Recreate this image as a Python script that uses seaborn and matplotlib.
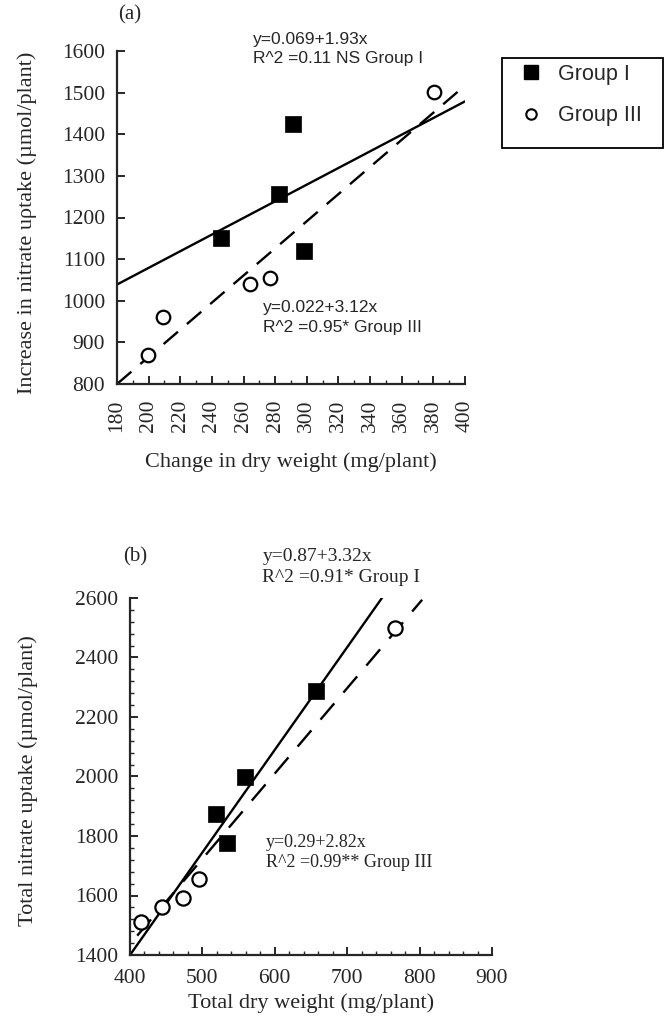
import numpy as np
import pandas as pd
import matplotlib
matplotlib.use("Agg")
import matplotlib.pyplot as plt
import seaborn as sns
from matplotlib.ticker import MultipleLocator
from matplotlib.lines import Line2D
from matplotlib.patches import Rectangle

# ---------------- data ----------------
# panel (a)
a_g1_x = [245.6, 282.4, 291.4, 298.4]
a_g1_y = [1151, 1257, 1424, 1119]
a_g3_x = [199.8, 208.8, 264.0, 276.5, 380.5]
a_g3_y = [870, 960, 1041, 1055, 1502]
a_fit1_x = [180, 400]
a_fit1_y = [1039, 1479]
a_fit3_x = [180, 400]
a_fit3_y = [800, 1517]

# panel (b)
b_g1_x = [518.8, 533.7, 558.4, 657.0]
b_g1_y = [1874, 1777, 1997, 2287]
b_g3_x = [414.9, 444.6, 473.3, 495.5, 766.0]
b_g3_y = [1512, 1562, 1592, 1657, 2499]
b_fit1_x = [400, 750]
b_fit1_y = [1400, 2607]
b_fit3_x = [410, 803.5]
b_fit3_y = [1465, 2594]

a_xticks = list(range(180, 401, 20))
a_yticks = list(range(800, 1601, 100))
b_xticks = list(range(400, 901, 100))
b_yticks = list(range(1400, 2601, 200))

legend_labels = ["Group I", "Group III"]

# ---------------- style ----------------
sns.set_theme(style="ticks")
plt.rcParams["font.family"] = ["Liberation Serif", "DejaVu Serif"]
plt.rcParams["xtick.direction"] = "in"
plt.rcParams["ytick.direction"] = "in"
plt.rcParams["axes.linewidth"] = 1.6
plt.rcParams["xtick.major.width"] = 1.4
plt.rcParams["ytick.major.width"] = 1.4
plt.rcParams["xtick.minor.width"] = 1.0
plt.rcParams["ytick.minor.width"] = 1.0

SANS = ["Liberation Sans", "DejaVu Sans"]
SERIF = ["Liberation Serif", "DejaVu Serif"]
W, H = 665, 1018

fig = plt.figure(figsize=(6.65, 10.18), dpi=100)
# axes placed from pixel extents of the reference
ax1 = fig.add_axes([117 / W, 1 - 384 / H, 348 / W, 333 / H])
ax2 = fig.add_axes([130 / W, 1 - 955 / H, 362 / W, 357 / H])


def draw(ax, g1x, g1y, g3x, g3y, f1x, f1y, f3x, f3y, dash, s_sq, s_ci):
    sns.lineplot(x=f1x, y=f1y, ax=ax, color="black", linewidth=1.7, sort=False)
    sns.lineplot(x=f3x, y=f3y, ax=ax, color="black", linewidth=1.7, sort=False,
                 linestyle=(0, dash))
    sns.scatterplot(x=g1x, y=g1y, ax=ax, marker="s", s=s_sq, color="black",
                    edgecolor="black", linewidth=0.5, zorder=5)
    sns.scatterplot(x=g3x, y=g3y, ax=ax, marker="o", s=s_ci, facecolor="white",
                    edgecolor="black", linewidth=1.6, zorder=5)
    sns.despine(ax=ax)
    ax.grid(False)


# ---------------- panel (a) ----------------
draw(ax1, a_g1_x, a_g1_y, a_g3_x, a_g3_y, a_fit1_x, a_fit1_y, a_fit3_x, a_fit3_y,
     (8, 5), 120, 95)
ax1.set_xlim(180, 400)
ax1.set_ylim(800, 1600)
ax1.set_xticks(a_xticks)
ax1.set_yticks(a_yticks)
ax1.xaxis.set_minor_locator(MultipleLocator(10))
ax1.tick_params(axis="x", which="major", length=6, labelsize=15.5, rotation=90, pad=11)
ax1.tick_params(axis="x", which="minor", length=3)
ax1.tick_params(axis="y", which="major", length=6, labelsize=15.5, pad=8.5)
ax1.set_xlabel("Change in dry weight (mg/plant)", fontsize=16, family=SERIF, labelpad=15)
ax1.set_ylabel("Increase in nitrate u\u03c1take (\u00b5mol/plant)", fontsize=16,
               family=SERIF)
ax1.yaxis.set_label_coords(-0.23, 0.485)
ax1.text(188, 1687, "(a)", fontsize=15, family=SERIF, ha="center", va="center",
         clip_on=False)
ax1.text(266, 1628, "y=0.069+1.93x", fontsize=12.5, family=SANS, va="center", clip_on=False)
ax1.text(266, 1583, "R^2 =0.11 NS Group I", fontsize=12.5, family=SANS, va="center",
         clip_on=False)
ax1.text(272.5, 983, "y=0.022+3.12x", fontsize=12.5, family=SANS, va="center")
ax1.text(272.5, 935, "R^2 =0.95* Group III", fontsize=12.5, family=SANS, va="center")

# ---------------- panel (b) ----------------
draw(ax2, b_g1_x, b_g1_y, b_g3_x, b_g3_y, b_fit1_x, b_fit1_y, b_fit3_x, b_fit3_y,
     (9, 6), 135, 105)
ax2.set_xlim(400, 900)
ax2.set_ylim(1400, 2600)
ax2.set_xticks(b_xticks)
ax2.set_yticks(b_yticks)
ax2.xaxis.set_minor_locator(MultipleLocator(20))
ax2.yaxis.set_minor_locator(MultipleLocator(40))
ax2.tick_params(axis="x", which="major", length=6, labelsize=15.5, pad=10)
ax2.tick_params(axis="y", which="major", length=6, labelsize=15.5, pad=8.5)
ax2.tick_params(axis="both", which="minor", length=3)
ax2.set_xlabel("Total dry weight (mg/plant)", fontsize=16, family=SERIF, labelpad=4)
ax2.set_ylabel("Total nitrate uptake (\u00b5mol/plant)", fontsize=16, family=SERIF)
ax2.yaxis.set_label_coords(-0.255, 0.49)
ax2.text(407, 2739, "(b)", fontsize=15, family=SERIF, ha="center", va="center",
         clip_on=False)
ax2.text(583, 2739, "y=0.87+3.32x", fontsize=14, family=SERIF, va="center", clip_on=False)
ax2.text(583, 2670, "R^2 =0.91* Group I", fontsize=14, family=SERIF, va="center",
         clip_on=False)
ax2.text(588, 1779, "y=0.29+2.82x", fontsize=13, family=SERIF, va="center")
ax2.text(588, 1712, "R^2 =0.99** Group III", fontsize=13, family=SERIF, va="center")

# ---------------- legend ----------------
handles = [
    Line2D([], [], marker="s", linestyle="none", markersize=9.5, color="black"),
    Line2D([], [], marker="o", linestyle="none", markersize=7.5, markerfacecolor="white",
           markeredgecolor="black", markeredgewidth=1.5),
]
leg = fig.legend(handles, legend_labels, loc="upper left",
                 bbox_to_anchor=(514 / W, 1 - 64 / H),
                 frameon=False, prop={"family": SANS, "size": 15.5},
                 handletextpad=0.45, borderpad=0, labelspacing=0.95,
                 handlelength=1.6, borderaxespad=0)
fig.patches.append(Rectangle((502 / W, 1 - 148 / H), 161 / W, 90 / H,
                             transform=fig.transFigure, fill=False,
                             edgecolor="black", linewidth=1.3))

fig.savefig("out.png", dpi=100)
